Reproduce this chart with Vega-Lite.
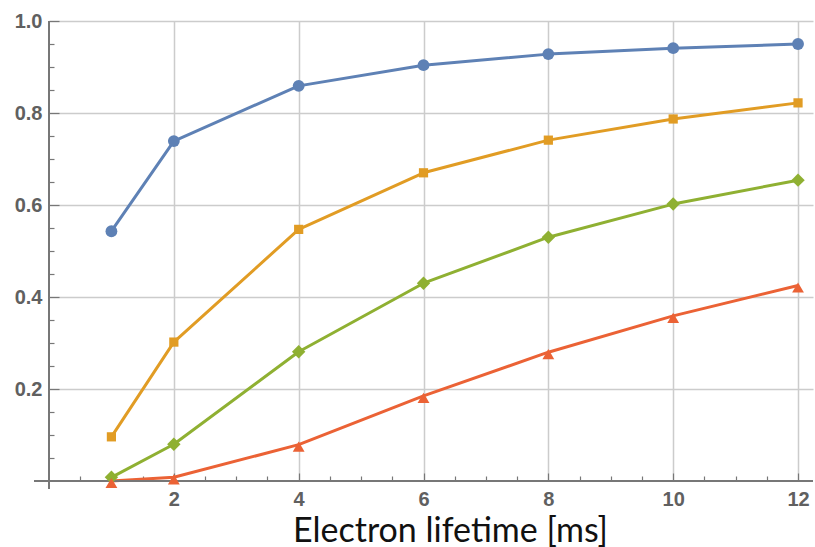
{
  "$schema": "https://vega.github.io/schema/vega-lite/v6.json",
  "width": 764,
  "height": 460,
  "autosize": {"type": "none"},
  "padding": {"left": 49, "top": 21, "right": 2, "bottom": 66},
  "background": "white",
  "config": {"view": {"stroke": null}},
  "data": {"values": [
    {"x": 1, "y": 0.543, "series": "A"},
    {"x": 2, "y": 0.739, "series": "A"},
    {"x": 4, "y": 0.859, "series": "A"},
    {"x": 6, "y": 0.904, "series": "A"},
    {"x": 8, "y": 0.928, "series": "A"},
    {"x": 10, "y": 0.941, "series": "A"},
    {"x": 12, "y": 0.950, "series": "A"},
    {"x": 1, "y": 0.096, "series": "B"},
    {"x": 2, "y": 0.302, "series": "B"},
    {"x": 4, "y": 0.547, "series": "B"},
    {"x": 6, "y": 0.670, "series": "B"},
    {"x": 8, "y": 0.741, "series": "B"},
    {"x": 10, "y": 0.787, "series": "B"},
    {"x": 12, "y": 0.822, "series": "B"},
    {"x": 1, "y": 0.008, "series": "C"},
    {"x": 2, "y": 0.080, "series": "C"},
    {"x": 4, "y": 0.281, "series": "C"},
    {"x": 6, "y": 0.430, "series": "C"},
    {"x": 8, "y": 0.530, "series": "C"},
    {"x": 10, "y": 0.602, "series": "C"},
    {"x": 12, "y": 0.654, "series": "C"},
    {"x": 1, "y": 0.000, "series": "D"},
    {"x": 2, "y": 0.008, "series": "D"},
    {"x": 4, "y": 0.079, "series": "D"},
    {"x": 6, "y": 0.185, "series": "D"},
    {"x": 8, "y": 0.280, "series": "D"},
    {"x": 10, "y": 0.359, "series": "D"},
    {"x": 12, "y": 0.425, "series": "D"}
  ]},
  "resolve": {"axis": {"x": "independent", "y": "independent"}},
  "layer": [
    {
      "mark": {"type": "line", "strokeWidth": 3, "strokeJoin": "round"},
      "encoding": {
        "x": {"field": "x", "type": "quantitative",
          "scale": {"domain": [0, 12.24], "nice": false, "zero": false},
          "axis": {"orient": "bottom", "values": [2, 4, 6, 8, 10, 12], "format": "d",
            "grid": true, "gridColor": "#cccccc", "gridWidth": 1.5,
            "domain": false, "ticks": true, "tickSize": -8, "tickColor": "#777777", "tickWidth": 1.2,
            "labelFont": "Liberation Sans", "labelFontSize": 20, "labelFontWeight": "bold", "labelColor": "#606060",
            "labelPadding": 16,
            "title": "Electron lifetime [ms]", "titleFont": "Lato", "titleFontSize": 34, "titleFontWeight": "normal",
            "titleColor": "#111111", "titleX": 401, "titleY": 60, "titleAlign": "center", "titleBaseline": "alphabetic"}},
        "y": {"field": "y", "type": "quantitative",
          "scale": {"domain": [0, 1], "nice": false, "zero": false},
          "axis": {"orient": "left", "values": [0.2, 0.4, 0.6, 0.8, 1.0], "format": ".1f",
            "grid": true, "gridColor": "#cccccc", "gridWidth": 1.5,
            "domain": false, "ticks": true, "tickSize": -10, "tickColor": "#777777", "tickWidth": 1.2,
            "labelFont": "Liberation Sans", "labelFontSize": 20, "labelFontWeight": "bold", "labelColor": "#606060",
            "labelPadding": 17, "title": null}},
        "color": {"field": "series", "type": "nominal",
          "scale": {"domain": ["A", "B", "C", "D"], "range": ["#5E81B5", "#E19C24", "#8FB032", "#EB6235"]},
          "legend": null}
      }
    },
    {
      "mark": {"type": "rule", "color": "#777777", "strokeWidth": 1.5},
      "encoding": {
        "x": {"datum": -0.23, "type": "quantitative", "scale": {"domain": [0, 12.24], "nice": false, "zero": false}, "axis": null},
        "x2": {"datum": 12.24},
        "y": {"datum": 0, "type": "quantitative", "scale": {"domain": [0, 1], "nice": false, "zero": false}, "axis": null}
      }
    },
    {
      "mark": {"type": "rule", "color": "#777777", "strokeWidth": 1.5},
      "encoding": {
        "x": {"datum": 0, "type": "quantitative", "scale": {"domain": [0, 12.24], "nice": false, "zero": false}, "axis": null},
        "y": {"datum": -0.017, "type": "quantitative", "scale": {"domain": [0, 1], "nice": false, "zero": false}, "axis": null},
        "y2": {"datum": 1.0}
      }
    },
    {
      "transform": [{"filter": "datum.series === 'A'"}],
      "mark": {"type": "point", "shape": "circle", "filled": true, "opacity": 1, "size": 140, "color": "#5E81B5"},
      "encoding": {
        "x": {"field": "x", "type": "quantitative", "scale": {"domain": [0, 12.24], "nice": false, "zero": false},
          "axis": {"orient": "bottom", "values": [0.5, 1, 1.5, 2.5, 3, 3.5, 4.5, 5, 5.5, 6.5, 7, 7.5, 8.5, 9, 9.5, 10.5, 11, 11.5],
            "labels": false, "grid": false, "domain": false, "tickSize": -5, "tickColor": "#777777", "tickWidth": 1.2, "title": null}},
        "y": {"field": "y", "type": "quantitative", "scale": {"domain": [0, 1], "nice": false, "zero": false},
          "axis": {"orient": "left", "values": [0.05, 0.1, 0.15, 0.25, 0.3, 0.35, 0.45, 0.5, 0.55, 0.65, 0.7, 0.75, 0.85, 0.9, 0.95],
            "labels": false, "grid": false, "domain": false, "tickSize": -5, "tickColor": "#777777", "tickWidth": 1.2, "title": null}}
      }
    },
    {
      "transform": [{"filter": "datum.series === 'B'"}],
      "mark": {"type": "point", "shape": "square", "filled": true, "opacity": 1, "size": 85, "color": "#E19C24"},
      "encoding": {
        "x": {"field": "x", "type": "quantitative", "scale": {"domain": [0, 12.24], "nice": false, "zero": false}, "axis": null},
        "y": {"field": "y", "type": "quantitative", "scale": {"domain": [0, 1], "nice": false, "zero": false}, "axis": null}
      }
    },
    {
      "transform": [{"filter": "datum.series === 'C'"}],
      "mark": {"type": "point", "shape": "diamond", "filled": true, "opacity": 1, "size": 180, "color": "#8FB032"},
      "encoding": {
        "x": {"field": "x", "type": "quantitative", "scale": {"domain": [0, 12.24], "nice": false, "zero": false}, "axis": null},
        "y": {"field": "y", "type": "quantitative", "scale": {"domain": [0, 1], "nice": false, "zero": false}, "axis": null}
      }
    },
    {
      "transform": [{"filter": "datum.series === 'D'"}],
      "mark": {"type": "point", "shape": "triangle-up", "filled": true, "opacity": 1, "size": 140, "color": "#EB6235", "yOffset": 2},
      "encoding": {
        "x": {"field": "x", "type": "quantitative", "scale": {"domain": [0, 12.24], "nice": false, "zero": false}, "axis": null},
        "y": {"field": "y", "type": "quantitative", "scale": {"domain": [0, 1], "nice": false, "zero": false}, "axis": null}
      }
    }
  ]
}
